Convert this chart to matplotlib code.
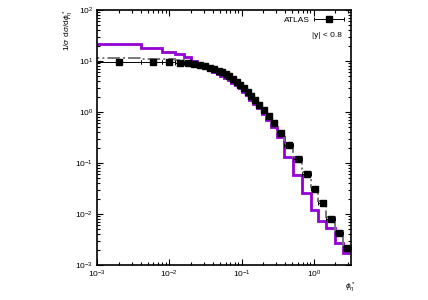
import numpy as np
import matplotlib
matplotlib.use('Agg')
import matplotlib.pyplot as plt
from matplotlib.legend_handler import HandlerErrorbar

plt.rcParams['font.family'] = ['Liberation Sans', 'DejaVu Sans']
plt.rcParams['mathtext.fontset'] = 'custom'
plt.rcParams['mathtext.rm'] = 'Liberation Sans'
plt.rcParams['mathtext.it'] = 'Liberation Sans:italic'

# phi*_eta bin edges
edges = [0.0, 0.004, 0.008, 0.012, 0.016, 0.020, 0.024, 0.029, 0.034, 0.039,
         0.045, 0.051, 0.057, 0.064, 0.072, 0.081, 0.091, 0.102, 0.114, 0.128,
         0.145, 0.165, 0.189, 0.219, 0.258, 0.312, 0.391, 0.524, 0.695, 0.918,
         1.153, 1.496, 1.947, 2.522, 3.277]

# ATLAS data, |y| < 0.8
atlas = [9.6, 9.5, 9.4, 9.2, 9.0, 8.7, 8.3, 7.9, 7.4, 6.8,
         6.4, 6.0, 5.5, 5.0, 4.4, 3.9, 3.4, 2.9, 2.5, 2.05,
         1.7, 1.38, 1.08, 0.83, 0.60, 0.39, 0.22, 0.12, 0.06, 0.031,
         0.0166, 0.0079, 0.0043, 0.0021]

# prediction (purple)
pred_a = [21.5, 18.0, 15.0, 13.5, 12.0, 10.0, 8.2, 7.2, 6.6, 6.0,
          5.5, 5.1, 4.7, 4.25, 3.75, 3.3, 2.9, 2.5, 2.15, 1.75,
          1.45, 1.18, 0.92, 0.70, 0.50, 0.32, 0.13, 0.058, 0.026, 0.012,
          0.0071, 0.0052, 0.0027, 0.0017]

# prediction (grey dash-dot)
pred_b = [11.3, 11.1, 10.8, 10.4, 10.0, 9.6, 9.1, 8.5, 7.9, 7.2,
          6.6, 6.1, 5.6, 5.05, 4.45, 3.95, 3.45, 2.95, 2.5, 2.1,
          1.72, 1.4, 1.1, 0.85, 0.62, 0.41, 0.235, 0.13, 0.066, 0.034,
          0.018, 0.0088, 0.0047, 0.0024]

edges = np.array(edges)
lo = edges[:-1]
hi = edges[1:]
xc = 0.5 * (lo + hi)
lo_plot = np.maximum(lo, 1e-4)
e_plot = np.concatenate([lo_plot[:1], hi])
atlas = np.array(atlas)

fig = plt.figure(figsize=(4.28, 3.0), dpi=100)
ax = fig.add_axes([0.227, 0.117, 0.593, 0.85])

ax.stairs(pred_a, e_plot, color='#9400d3', lw=2.0, baseline=None)
ax.stairs(pred_b, e_plot, color='#777777', lw=1.4, ls='-.', baseline=None)
eb = ax.errorbar(xc, atlas, xerr=[xc - lo_plot, hi - xc],
                 fmt='s', color='black', ms=4.2, lw=0.7, capsize=1.5,
                 capthick=0.7, zorder=5)

ax.set_xscale('log')
ax.set_yscale('log')
ax.set_xlim(1e-3, 3.277)
ax.set_ylim(1e-3, 1e2)

ax.tick_params(which='both', direction='in', top=True, right=True,
               labelsize=6, width=0.8, pad=3)
ax.tick_params(which='major', length=4)
ax.tick_params(which='minor', length=2)
for s in ax.spines.values():
    s.set_linewidth(1.2)

ax.text(-0.115, 1.0, r'1/$\sigma$ d$\sigma$/d$\phi^*_\eta$', rotation=90,
        ha='center', va='top', fontsize=6, transform=ax.transAxes)
ax.text(0.995, -0.085, r'$\phi^*_\eta$', ha='center', va='center', fontsize=6,
        transform=ax.transAxes)

ax.legend([eb], ['ATLAS'], markerfirst=False, frameon=False, loc='upper right',
          fontsize=6, handlelength=3.8, handletextpad=0.4, borderaxespad=0.3,
          handler_map={type(eb): HandlerErrorbar(xerr_size=1.8)})
ax.text(0.965, 0.9, '|y| < 0.8', ha='right', va='center', fontsize=6,
        transform=ax.transAxes)

fig.savefig('out.png', dpi=100)
